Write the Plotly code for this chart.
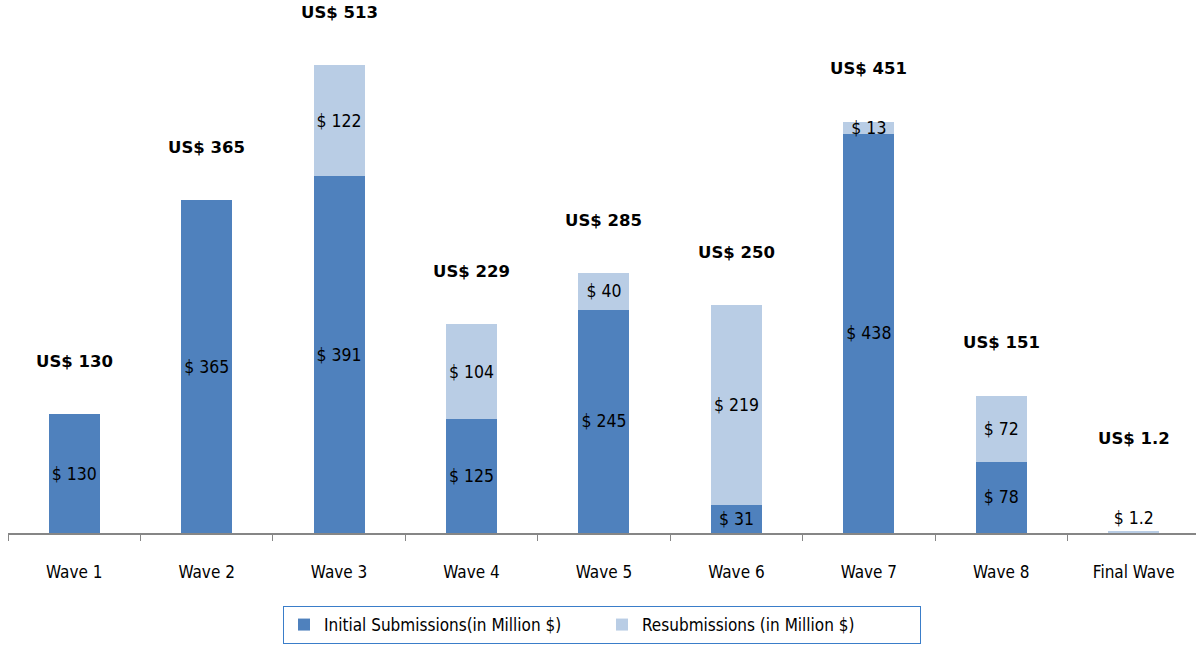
import plotly.graph_objects as go

categories = ["Wave 1", "Wave 2", "Wave 3", "Wave 4", "Wave 5", "Wave 6", "Wave 7", "Wave 8", "Final Wave"]
initial = [130, 365, 391, 125, 245, 31, 438, 78, None]
resub = [None, None, 122, 104, 40, 219, 13, 72, 1.2]
totals = [130, 365, 513, 229, 285, 250, 451, 151, 1.2]
total_labels = ["US$ 130", "US$ 365", "US$ 513", "US$ 229", "US$ 285", "US$ 250", "US$ 451", "US$ 151", "US$ 1.2"]

DARK = "#4F81BD"
LIGHT = "#B9CDE5"
NARROW = "DejaVu Sans Condensed, Liberation Sans Narrow, sans-serif"

fig = go.Figure()
fig.add_trace(go.Bar(
    x=categories, y=initial, name="Initial Submissions(in Million $)",
    marker=dict(color=DARK, line=dict(width=0)),
    texttemplate="$ %{y}", textposition="inside", insidetextanchor="middle", textangle=0,
    textfont=dict(family=NARROW, size=17.5, color="#000000"),
    constraintext="none",
))
resub_pos = ["outside" if (v is not None and v < 5) else "inside" for v in resub]
fig.add_trace(go.Bar(
    x=categories, y=resub, name="Resubmissions (in Million $)",
    marker=dict(color=LIGHT, line=dict(width=0)),
    texttemplate="$ %{y}", textposition=resub_pos, insidetextanchor="middle", textangle=0,
    textfont=dict(family=NARROW, size=17.5, color="#000000"),
    constraintext="none", cliponaxis=False,
))

for c, t, lab in zip(categories, totals, total_labels):
    fig.add_annotation(
        x=c, y=max(t, 45), text=f"<b>{lab}</b>", showarrow=False,
        yshift=53, yanchor="middle",
        font=dict(family="DejaVu Sans, Verdana, sans-serif", size=16.5, color="#000000"),
    )

fig.update_layout(
    width=1196, height=646,
    barmode="stack", bargap=0.615,
    plot_bgcolor="white", paper_bgcolor="white",
    margin=dict(l=8, r=0, t=10, b=113, autoexpand=False),
    uniformtext=dict(minsize=16, mode="show"),
    showlegend=True,
    legend=dict(
        orientation="h", x=0.5, xanchor="center", y=-0.1396, yanchor="top",
        font=dict(family=NARROW, size=17, color="#000000"),
        bordercolor="#3A7DC9", borderwidth=1,
        entrywidth=273, entrywidthmode="pixels",
        traceorder="normal",
    ),
    xaxis=dict(
        range=[-0.5, 8.47],
        showline=True, linecolor="#868686", linewidth=2,
        ticks="outside", tickson="boundaries", ticklen=6, tickcolor="#868686", tickwidth=1,
        ticklabelstandoff=23,
        tickfont=dict(family=NARROW, size=17, color="#000000"),
        showgrid=False, zeroline=False,
    ),
    yaxis=dict(range=[0, 573.5], visible=False, showgrid=False, zeroline=False),
)

fig.write_html(
    "out.html",
    config={"displayModeBar": False},
    post_script="document.body.style.margin='0';document.body.style.padding='0';",
)
